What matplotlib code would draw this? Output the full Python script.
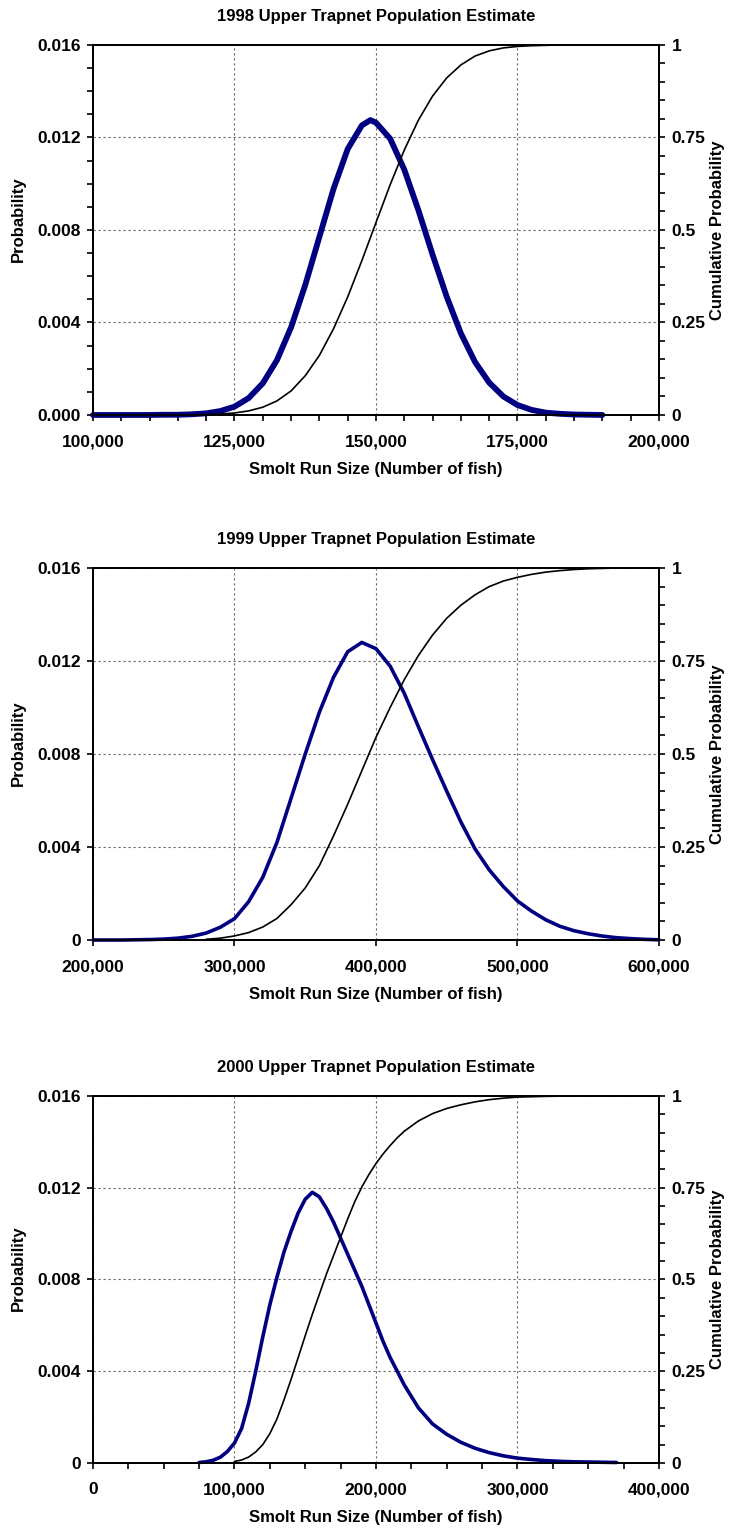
import matplotlib.pyplot as plt
from matplotlib.ticker import MultipleLocator, NullLocator

plt.rcParams['font.family'] = ['Liberation Sans', 'DejaVu Sans']
plt.rcParams['font.weight'] = 'bold'

NAVY = '#000080'

# ---- 1998 ----
title_98 = '1998 Upper Trapnet Population Estimate'
x_prob_98 = [100000, 102500, 105000, 107500, 110000, 112500, 115000, 117500, 120000,
             122500, 125000, 127500, 130000, 132500, 135000, 137500, 140000, 142500,
             145000, 147500, 149000, 150000, 152500, 155000, 157500, 160000, 162500,
             165000, 167500, 170000, 172500, 175000, 177500, 180000, 182500, 185000,
             187500, 190000]
prob_98 = [0.0, 0.0, 0.0, 0.0, 0.0, 0.00001, 0.00001, 0.00003, 0.00007,
           0.00017, 0.00036, 0.00073, 0.00137, 0.00237, 0.00379, 0.00562, 0.00770, 0.00978,
           0.01150, 0.01252, 0.01275, 0.01264, 0.01195, 0.01061, 0.00885, 0.00693, 0.00511,
           0.00353, 0.00229, 0.00140, 0.00080, 0.00043, 0.00022, 0.00010, 0.00005, 0.00002,
           0.00001, 0.0]
x_cum_98 = [120000, 122500, 125000, 127500, 130000, 132500, 135000, 137500, 140000,
            142500, 145000, 147500, 150000, 152500, 155000, 157500, 160000, 162500,
            165000, 167500, 170000, 172500, 175000, 177500, 180000, 182500]
cum_98 = [0.001, 0.0025, 0.0054, 0.011, 0.021, 0.038, 0.065, 0.106, 0.161,
          0.233, 0.319, 0.417, 0.52, 0.622, 0.716, 0.797, 0.862, 0.911,
          0.946, 0.970, 0.984, 0.992, 0.996, 0.998, 0.999, 1.0]
xticks_98 = [100000, 125000, 150000, 175000, 200000]
xlabels_98 = ['100,000', '125,000', '150,000', '175,000', '200,000']
ylabels_98 = ['0.000', '0.004', '0.008', '0.012', '0.016']

# ---- 1999 ----
title_99 = '1999 Upper Trapnet Population Estimate'
x_prob_99 = [200000, 210000, 220000, 230000, 240000, 250000, 260000, 270000, 280000,
             290000, 300000, 310000, 320000, 330000, 340000, 350000, 360000, 370000,
             380000, 390000, 400000, 410000, 420000, 430000, 440000, 450000, 460000,
             470000, 480000, 490000, 500000, 510000, 520000, 530000, 540000, 550000,
             560000, 570000, 580000, 590000, 600000]
prob_99 = [0.0, 0.0, 0.0, 0.00001, 0.00002, 0.00004, 0.00008, 0.00016, 0.0003,
           0.00055, 0.00092, 0.00165, 0.0027, 0.0042, 0.0061, 0.0080, 0.0098, 0.0113,
           0.0124, 0.0128, 0.01253, 0.01178, 0.01061, 0.00917, 0.00776, 0.0064, 0.00508,
           0.00392, 0.00302, 0.0023, 0.00168, 0.00124, 0.00087, 0.00059, 0.0004, 0.00027,
           0.00017, 0.0001, 0.00006, 0.00003, 0.00001]
x_cum_99 = [280000, 290000, 300000, 310000, 320000, 330000, 340000, 350000, 360000,
            370000, 380000, 390000, 400000, 410000, 420000, 430000, 440000, 450000,
            460000, 470000, 480000, 490000, 500000, 510000, 520000, 530000, 540000,
            550000, 560000, 570000, 580000]
cum_99 = [0.002, 0.005, 0.011, 0.02, 0.035, 0.058, 0.095, 0.14, 0.2,
          0.28, 0.365, 0.455, 0.545, 0.625, 0.70, 0.765, 0.82, 0.865,
          0.90, 0.928, 0.95, 0.965, 0.975, 0.983, 0.989, 0.993, 0.996,
          0.998, 0.999, 1.0, 1.0]
xticks_99 = [200000, 300000, 400000, 500000, 600000]
xlabels_99 = ['200,000', '300,000', '400,000', '500,000', '600,000']
ylabels_99 = ['0', '0.004', '0.008', '0.012', '0.016']

# ---- 2000 ----
title_00 = '2000 Upper Trapnet Population Estimate'
x_prob_00 = [75000, 80000, 85000, 90000, 95000, 100000, 105000, 110000, 115000,
             120000, 125000, 130000, 135000, 140000, 145000, 150000, 155000, 160000,
             165000, 170000, 175000, 180000, 185000, 190000, 195000, 200000, 205000,
             210000, 215000, 220000, 225000, 230000, 240000, 250000, 260000, 270000,
             280000, 290000, 300000, 310000, 320000, 330000, 340000, 350000, 360000,
             370000]
prob_00 = [0.00002, 0.00005, 0.00012, 0.00025, 0.0005, 0.00087, 0.0015, 0.0026, 0.0040,
           0.0055, 0.0069, 0.0081, 0.0092, 0.0101, 0.0109, 0.0115, 0.0118, 0.0116,
           0.0111, 0.0105, 0.0098, 0.0091, 0.0084, 0.0077, 0.0069, 0.0061, 0.0053,
           0.0046, 0.0040, 0.0034, 0.0029, 0.0024, 0.0017, 0.00125, 0.0009, 0.00064,
           0.00045, 0.00031, 0.00021, 0.00015, 0.0001, 0.00007, 0.00005, 0.00004, 0.00003,
           0.00002]
x_cum_00 = [100000, 105000, 110000, 115000, 120000, 125000, 130000, 135000, 140000,
            145000, 150000, 155000, 160000, 165000, 170000, 175000, 180000, 185000,
            190000, 195000, 200000, 205000, 210000, 215000, 220000, 230000, 240000,
            250000, 260000, 270000, 280000, 290000, 300000, 310000, 320000, 335000]
cum_00 = [0.004, 0.008, 0.016, 0.03, 0.05, 0.08, 0.12, 0.172, 0.228,
          0.287, 0.347, 0.405, 0.46, 0.515, 0.565, 0.615, 0.665, 0.712,
          0.752, 0.786, 0.816, 0.842, 0.865, 0.886, 0.904, 0.932, 0.952,
          0.966, 0.976, 0.984, 0.99, 0.994, 0.997, 0.998, 0.999, 1.0]
xticks_00 = [0, 100000, 200000, 300000, 400000]
xlabels_00 = ['0', '100,000', '200,000', '300,000', '400,000']
ylabels_00 = ['0', '0.004', '0.008', '0.012', '0.016']

yticks = [0, 0.004, 0.008, 0.012, 0.016]
cum_ticks = [0, 0.25, 0.5, 0.75, 1]
cum_labels = ['0', '0.25', '0.5', '0.75', '1']

fig = plt.figure(figsize=(7.3, 15.29), dpi=100)

panels = [
    # rect, title, x/y prob, x/y cum, xticks, xlabels, ylabels, xminor, yminor, blue width
    ([0.1274, 0.7286, 0.7753, 0.2420], title_98, x_prob_98, prob_98, x_cum_98, cum_98,
     xticks_98, xlabels_98, ylabels_98, 5000, 0.001, 4.2),
    ([0.1274, 0.3852, 0.7753, 0.2433], title_99, x_prob_99, prob_99, x_cum_99, cum_99,
     xticks_99, xlabels_99, ylabels_99, None, None, 2.6),
    ([0.1274, 0.0432, 0.7753, 0.2400], title_00, x_prob_00, prob_00, x_cum_00, cum_00,
     xticks_00, xlabels_00, ylabels_00, 25000, None, 2.6),
]

for rect, title, xp, yp, xc, yc, xt, xl, yl, xminor, yminor, bw in panels:
    ax = fig.add_axes(rect)
    ax.plot(xp, yp, color=NAVY, lw=bw, solid_capstyle='round', solid_joinstyle='round',
            zorder=3, clip_on=False)
    ax.set_xlim(xt[0], xt[-1])
    ax.set_ylim(0, 0.016)
    ax.set_xticks(xt)
    ax.set_xticklabels(xl)
    ax.set_yticks(yticks)
    ax.set_yticklabels(yl)
    if xminor:
        ax.xaxis.set_minor_locator(MultipleLocator(xminor))
    else:
        ax.xaxis.set_minor_locator(NullLocator())
    if yminor:
        ax.yaxis.set_minor_locator(MultipleLocator(yminor))
    else:
        ax.yaxis.set_minor_locator(NullLocator())
    ax.grid(True, which='major', linestyle=(0, (2, 2.5)), color='0.4', lw=0.8)
    ax.tick_params(which='both', direction='out', length=4, width=1.2, labelsize=12.5)
    ax.tick_params(axis='x', pad=10)
    ax.tick_params(axis='y', pad=5)
    for s in ax.spines.values():
        s.set_linewidth(1.3)
    ax.set_title(title, fontsize=12, fontweight='bold', pad=17)
    ax.set_xlabel('Smolt Run Size (Number of fish)', fontsize=12, fontweight='bold',
                  labelpad=9)
    ax.set_ylabel('Probability', fontsize=12, fontweight='bold')
    ax.yaxis.set_label_coords(-0.118, 0.53)

    ax2 = ax.twinx()
    ax2.plot(xc, yc, color='black', lw=1.2)
    ax2.set_ylim(0, 1)
    ax2.set_yticks(cum_ticks)
    ax2.set_yticklabels(cum_labels)
    ax2.yaxis.set_minor_locator(MultipleLocator(0.05))
    ax2.tick_params(which='both', direction='out', length=4, width=1.2, labelsize=12.5, pad=5)
    for s in ax2.spines.values():
        s.set_linewidth(1.3)
    ax2.set_ylabel('Cumulative Probability', fontsize=12, fontweight='bold')
    ax2.yaxis.set_label_coords(1.09, 0.5)

fig.savefig('out.png', dpi=100)
